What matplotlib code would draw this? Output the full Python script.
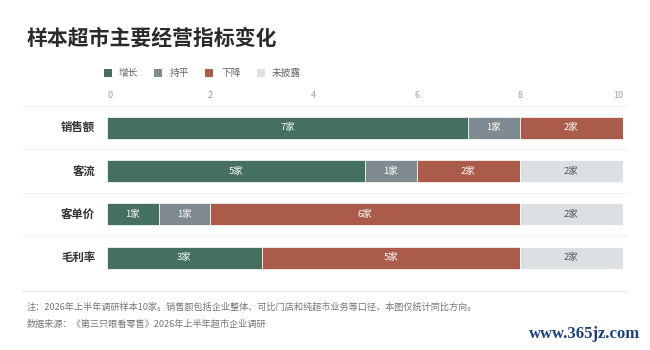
import matplotlib
matplotlib.use("Agg")
import matplotlib.pyplot as plt
from matplotlib.lines import Line2D
from matplotlib.patches import Rectangle

plt.rcParams['font.family'] = ['Noto Sans CJK SC', 'DejaVu Sans']

categories = ['销售额', '客流', '客单价', '毛利率']
series_names = ['增长', '持平', '下降', '未披露']
growth = [7, 5, 1, 3]
flat = [1, 1, 1, 0]
decline = [2, 2, 6, 5]
undisclosed = [0, 2, 2, 2]
xticks = [0, 2, 4, 6, 8, 10]
unit = '家'

colors = ['#45705f', '#7f8b91', '#ab5b4a', '#dce0e2']
label_colors = ['white', 'white', 'white', '#555555']

W, H = 650, 350
fig = plt.figure(figsize=(6.5, 3.5), dpi=100)
fig.patch.set_facecolor('white')

def fx(px):
    return px / W

def fy(py):
    return 1 - py / H

# axes region in pixels
x0, x1 = 107, 623
ytop, ybot = 106, 106 + 43.3 * 4
ax = fig.add_axes([fx(x0), fy(ybot), fx(x1) - fx(x0), fy(ytop) - fy(ybot)])
ax.set_xlim(0, 10)
ax.set_ylim(3.5, -0.5)
ax.axis('off')

data = [growth, flat, decline, undisclosed]
n = len(categories)
left = [0] * n
for s, vals in enumerate(data):
    for i, v in enumerate(vals):
        if v > 0:
            ax.barh(i, v, left=left[i], height=0.51, color=colors[s],
                    edgecolor='white', linewidth=0.5)
            ax.text(left[i] + v / 2, i, f'{v}{unit}', ha='center', va='center',
                    fontsize=6.8, color=label_colors[s])
        left[i] += v

# category labels
for i, c in enumerate(categories):
    ax.text(-0.23, i, c, ha='right', va='center', fontsize=8.2,
            color='#333333', fontweight='bold', transform=ax.transData)

# x tick labels
for t in xticks:
    ha = 'center'
    if t == xticks[0]:
        ha = 'left'
    elif t == xticks[-1]:
        ha = 'right'
    fig.text(fx(x0 + (x1 - x0) * t / 10), fy(95.5), str(t), ha=ha, va='center',
             fontsize=6.5, color='#a0a0a0')

# separator lines
for py in [106, 149.3, 192.6, 235.9]:
    fig.add_artist(Line2D([fx(22), fx(627)], [fy(py), fy(py)], color='#f2f2f2', lw=0.8))
fig.add_artist(Line2D([fx(22), fx(627)], [fy(291), fy(291)], color='#e6e6e6', lw=0.8))

# title
fig.text(fx(27), fy(38), '样本超市主要经营指标变化', ha='left', va='center',
         fontsize=15, fontweight='bold', color='#2a2a2a')

# legend
sq_x = [108, 158, 209, 261]
tx_x = [119, 170, 221, 272]
for s, name in enumerate(series_names):
    fig.add_artist(Rectangle((fx(sq_x[s] - 4), fy(77)), fx(8), 8 / H,
                             facecolor=colors[s], edgecolor='none'))
    fig.text(fx(tx_x[s]), fy(73), name, ha='left', va='center',
             fontsize=7, color='#666666')

# footnotes
fig.text(fx(27), fy(307), '注：2026年上半年调研样本10家。销售额包括企业整体、可比门店和纯超市业务等口径，本图仅统计同比方向。',
         ha='left', va='center', fontsize=6.6, color='#777777')
fig.text(fx(27), fy(324), '数据来源：《第三只眼看零售》2026年上半年超市企业调研',
         ha='left', va='center', fontsize=6.6, color='#777777')

# watermark
fig.text(fx(640), fy(334), 'www.365jz.com', ha='right', va='center',
         fontsize=12, color='#1e3f7a', fontweight='bold', family='Liberation Serif')

fig.savefig('out.png', dpi=100, facecolor='white')
